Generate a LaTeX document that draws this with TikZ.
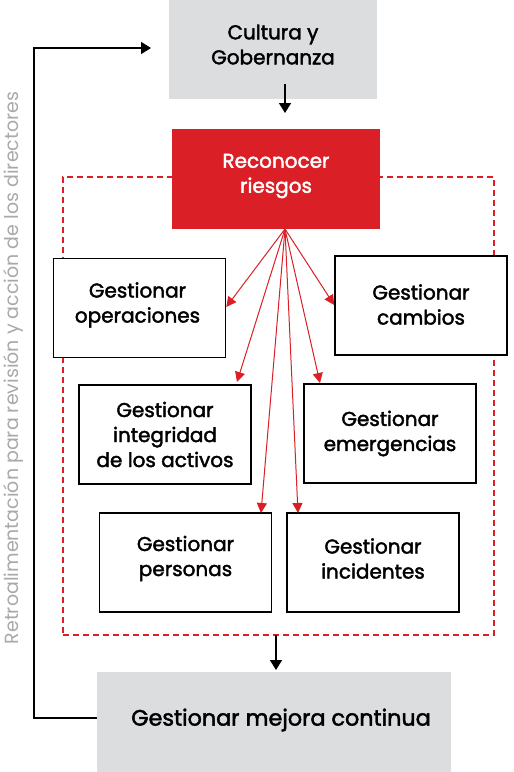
\documentclass[tikz,border=0pt]{standalone}
\usepackage{fontspec}
\setmainfont{Poppins}
\newfontfamily\medfont{Poppins}[FakeBold=2]
\usetikzlibrary{arrows.meta}
\definecolor{rred}{HTML}{DA1F26}
\definecolor{gfill}{HTML}{DCDDDE}
\definecolor{ftext}{HTML}{A7A9AC}
\begin{document}
\begin{tikzpicture}[x=1pt,y=-1pt,
  gbox/.style={fill=gfill,draw=none,inner sep=0pt},
  rbox/.style={fill=rred,draw=none,inner sep=0pt},
  wbox/.style={fill=white,draw=black,line width=1.6pt,inner sep=0pt,minimum width=172pt,minimum height=99pt},
  txt/.style={font=\medfont\fontsize{20}{25}\selectfont,align=center,inner sep=0pt},
  bigtxt/.style={font=\medfont\fontsize{22.3}{26}\selectfont,align=center,inner sep=0pt},
  redarrow/.style={draw=rred,line width=1pt,-{Triangle[length=10pt,width=10pt]}},
  blackarrow/.style={draw=black,line width=1.5pt,-{Triangle[length=10pt,width=12pt]}},
  dashbox/.style={draw=rred,line width=1.4pt,dash pattern=on 6pt off 4pt}
]
\useasboundingbox (0,0) rectangle (514,772);
\fill[white] (0,0) rectangle (514,772);

% dashed region
\node[dashbox,inner sep=0pt,minimum width=431pt,minimum height=458pt] (zone) at (278.5,406) {};

% top box
\node[gbox,minimum width=208pt,minimum height=99pt] (cg) at (273,49.5) {};
\node[txt] (cgt) at ([yshift=5pt]cg.center) {Cultura y\\Gobernanza};

% red box
\node[rbox,minimum width=208pt,minimum height=100pt] (rr) at (276,179) {};
\node[txt,text=white] (rrt) at ([yshift=3pt]rr.center) {Reconocer\\riesgos};

% white boxes
\node[wbox] (ope) at (139.5,308) {};
\node[txt] (opet) at ([yshift=3pt,xshift=-2pt]ope.center) {Gestionar\\operaciones};
\node[wbox] (cam) at (421,305.5) {};
\node[txt] (camt) at ([yshift=1pt]cam.center) {Gestionar\\cambios};
\node[wbox] (int) at (165,434.5) {};
\node[txt] (intt) at (int.center) {Gestionar\\integridad\\de los activos};
\node[wbox] (eme) at (390,433.5) {};
\node[txt] (emet) at (eme.center) {Gestionar\\emergencias};
\node[wbox] (per) at (185.5,562.5) {};
\node[txt] (pert) at ([yshift=4pt]per.center) {Gestionar\\personas};
\node[wbox] (inc) at (373,562.5) {};
\node[txt] (inct) at ([yshift=4pt]inc.center) {Gestionar\\incidentes};

% bottom box
\node[gbox,minimum width=354pt,minimum height=100pt] (mc) at (274,722) {};
\node[bigtxt] (mct) at ([xshift=7pt,yshift=2pt]mc.center) {Gestionar mejora continua};

% black arrows
\coordinate (a1s) at (285,84);
\coordinate (a1e) at (285,113);
\draw[blackarrow] (a1s) -- (a1e);
\coordinate (a2s) at (276,635);
\coordinate (a2e) at (276,670);
\draw[blackarrow] (a2s) -- (a2e);

% feedback loop
\coordinate (fb1) at (34,718);
\coordinate (fb2) at (34,48);
\coordinate (fbe) at (151,48);
\draw[blackarrow] (mc.west |- fb1) -- (fb1) -- (fb2) -- (fbe);

% red arrows
\coordinate (src) at (285,229);
\coordinate (tint) at (237,382);
\coordinate (teme) at (320,383);
\coordinate (tper) at (261,513);
\coordinate (tinc) at (298,513);
\draw[redarrow] (src) -- (ope.east |- 0,307);
\draw[redarrow] (src) -- (cam.west |- 0,305);
\draw[redarrow] (src) -- (tint);
\draw[redarrow] (src) -- (teme);
\draw[redarrow] (src) -- (tper);
\draw[redarrow] (src) -- (tinc);

% side label
\node[font=\fontsize{19}{22}\selectfont,text=ftext,rotate=90,inner sep=0pt] (fbt) at (13,368) {Retroalimentación para revisión y acción de los directores};
\end{tikzpicture}
\end{document}
